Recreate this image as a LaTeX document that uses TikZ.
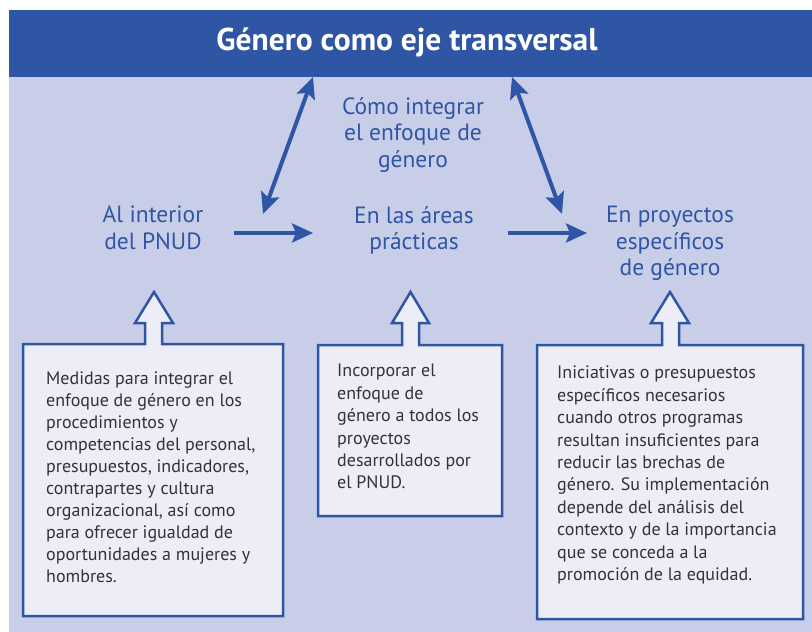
\documentclass[tikz,border=0pt]{standalone}
\usepackage{graphicx}
\usepackage{fontspec}
\setmainfont{PT Sans}
\usetikzlibrary{arrows.meta}
\definecolor{hblue}{HTML}{2F56A5}
\definecolor{lav}{HTML}{C9CEE8}
\definecolor{boxfill}{HTML}{ECEDF7}
\definecolor{txt}{HTML}{333333}
\begin{document}
\begin{tikzpicture}[x=1pt,y=-1pt,
  lbl/.style={text=hblue, align=center, anchor=north, inner sep=0pt, font=\fontsize{23.5}{26.5}\selectfont},
  body/.style={text=txt, align=left, anchor=north west, inner sep=0pt, font=\fontsize{18}{22.4}\selectfont},
  blk/.style={draw=hblue, line width=2.5pt, fill=boxfill, line join=miter},
  tipS/.tip={Stealth[length=21pt,width=19pt,inset=4pt]},
  conn/.style={draw=hblue, line width=4pt, -tipS},
  dconn/.style={draw=hblue, line width=4pt, tipS-tipS}]
\useasboundingbox (0,0) rectangle (812,632);
\fill[white] (0,0) rectangle (812,632);
\fill[lav] (9,77) rectangle (812,632);
\fill[hblue] (9,10) rectangle (812,77);
\node[text=white, anchor=base, inner sep=0pt, font=\bfseries\fontsize{31.5}{31.5}\selectfont] (title) at (407,50) {Género como eje transversal};

% labels
\node[lbl] (como) at (413,97) {Cómo integrar\\el enfoque de\\género};
\node[lbl] (pnud) at (153,206) {Al interior\\del PNUD};
\node[lbl] (areas) at (414,206) {En las áreas\\prácticas};
\node[lbl] (proy) at (670,206) {En proyectos\\específicos\\de género};

% connectors
\coordinate (t1) at (313,77); \coordinate (b1) at (263,214);
\coordinate (t2) at (512,77); \coordinate (b2) at (562,214);
\coordinate (h1s) at (234,233); \coordinate (h1e) at (313,233);
\coordinate (h2s) at (508,233); \coordinate (h2e) at (587,233);
\draw[dconn] (b1) -- (t1);
\draw[dconn] (t2) -- (b2);
\draw[conn] (h1s) -- (h1e);
\draw[conn] (h2s) -- (h2e);

% block boxes with arrows
\draw[blk] (23,616) -- (23,344) -- (145,344) -- (145,323) -- (135,323) -- (154,292) -- (173,323) -- (162,323) -- (162,344) -- (283,344) -- (283,616) -- cycle;
\draw[blk] (318,516) -- (318,345) -- (402,345) -- (402,323) -- (392,323) -- (410.5,292) -- (429,323) -- (419,323) -- (419,345) -- (502,345) -- (502,516) -- cycle;
\draw[blk] (537,619) -- (537,345) -- (662,345) -- (662,323) -- (651,323) -- (670,292) -- (689,323) -- (679,323) -- (679,345) -- (803,345) -- (803,619) -- cycle;

\node[body, font=\fontsize{18}{22}\selectfont] (t1box) at (46,372) {Medidas para integrar el\\enfoque de género en los\\procedimientos y\\competencias del personal,\\presupuestos, indicadores,\\contrapartes y cultura\\organizacional, así como\\para ofrecer igualdad de\\oportunidades a mujeres y\\hombres.};
\node[body] (t2box) at (337,364) {Incorporar el\\enfoque de\\género a todos los\\proyectos\\desarrollados por\\el PNUD.};
\node[body] (t3box) at (557,366) {Iniciativas o presupuestos\\específicos necesarios\\cuando otros programas\\resultan insuficientes para\\reducir las brechas de\\género. Su implementación\\depende del análisis del\\contexto y de la importancia\\que se conceda a la\\promoción de la equidad.};
\end{tikzpicture}
\end{document}
